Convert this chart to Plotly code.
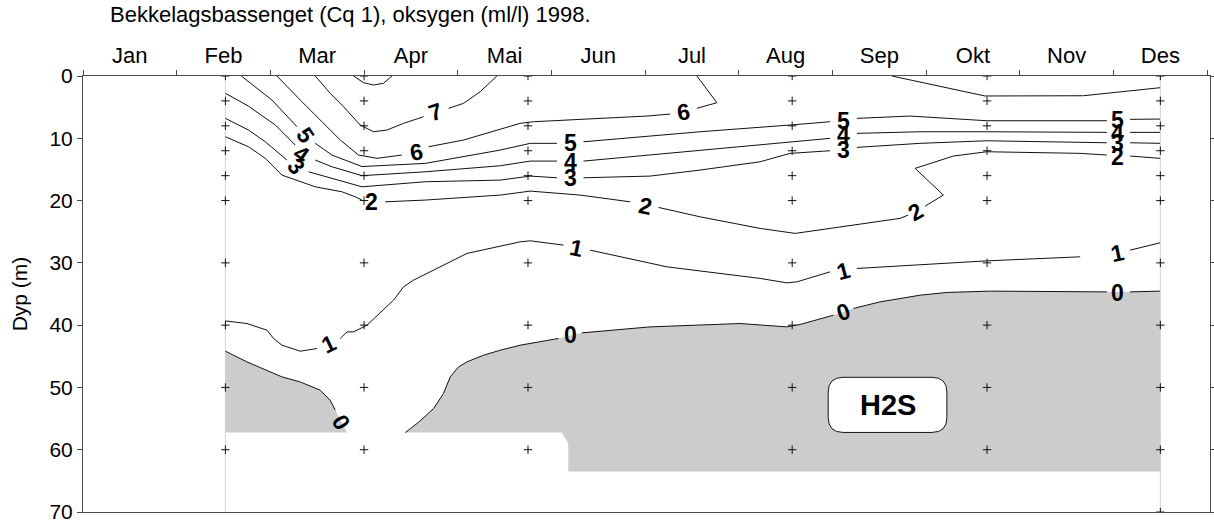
import plotly.graph_objects as go

# ---------------------------------------------------------------- data
MONTHS = ["Jan", "Feb", "Mar", "Apr", "Mai", "Jun", "Jul", "Aug", "Sep", "Okt", "Nov", "Des"]

# sampling dates (in months from 1 Jan) and sampled depths (m)
station_month = [1.52, 3.00, 4.75, 7.57, 9.65, 11.50]
station_depths = [
    [0, 4, 8, 12, 16, 20, 30, 40, 50, 60],
    [0, 4, 8, 12, 16, 20, 30, 40, 50, 60],
    [0, 4, 8, 12, 16, 20, 30, 40, 50, 60],
    [0, 4, 8, 12, 16, 20, 30, 40, 50, 60],
    [0, 4, 8, 12, 16, 20, 30, 40, 50, 60],
    [0, 4, 8, 12, 16, 20, 30, 40, 50, 60, 70],
]

# deepest sampled water, lower edge of the shaded area
bottom_month = [1.52, 5.11, 5.18, 5.18, 11.50]
bottom_depth = [57.25, 57.25, 59.0, 63.5, 63.5]

# oxygen isolines (ml/l); None breaks the line where a label sits
iso8_x = [2.888, 2.995, 3.101, 3.208, 3.298]
iso8_d = [0, 1.08, 1.45, 1.17, 0]

iso7_x = [2.479, 2.639, 2.781, 2.959, 3.101, 3.244, 3.422, 3.635, None, 3.902, 4.062, 4.240, 4.418]
iso7_d = [0, 2.78, 4.93, 7.87, 8.95, 8.68, 7.60, 6.54, None, 5.19, 4.39, 2.52, 0]

iso6_x = [2.070, 2.319, 2.746, 2.941, 3.138, 3.404, None, 3.688, 4.062, 4.667, 4.809, 6.019, 6.268, None,
          6.553, 6.766, 6.553, None, 8.634, 9.629, 10.679, 11.497]
iso6_d = [0, 3.86, 10.28, 12.69, 13.22, 12.69, None, 11.36, 10.28, 7.60, 7.34, 6.43, 6.11, None,
          5.19, 4.29, 0, None, 0, 3.21, 3.17, 1.88]

iso5_x = [1.69, 2.017, 2.284, None, 2.479, 2.657, 2.978, 3.653, 4.454, 4.774, 5.059, None,
          5.343, 6.588, 7.548, 7.975, None, 8.260, 8.829, 9.647, 10.929, None, 11.177, 11.497]
iso5_d = [0, 3.86, 8.15, None, 10.81, 12.69, 14.54, 14.03, 11.89, 10.81, 10.81, None,
          10.56, 8.95, 7.87, 7.34, None, 6.80, 6.43, 7.18, 7.18, None, 6.96, 6.91]

iso4_x = [1.52, 1.764, 2.053, 2.266, None, 2.479, 2.657, 2.978, 3.653, 4.454, 4.774, 5.059, None,
          5.343, 6.588, 7.548, 7.975, None, 8.260, 8.936, 9.647, 10.929, None, 11.177, 11.497]
iso4_d = [2.78, 4.82, 7.87, 11.09, None, 13.50, 14.57, 16.0, 15.38, 14.41, 13.66, 13.66, None,
          13.66, 11.89, 10.56, 10.01, None, 9.21, 8.95, 8.95, 9.05, None, 9.05, 9.05]

iso3_x = [1.52, 1.767, 1.946, 2.177, None, 2.408, 2.978, 3.653, 4.454, 4.774, 5.059, None,
          5.343, 6.054, 6.588, 7.228, 7.548, 7.975, None, 8.260, 8.936, 9.647, 10.929, None, 11.177, 11.497]
iso3_d = [6.80, 8.68, 10.56, 13.50, None, 15.38, 17.79, 16.98, 16.71, 16.07, 16.34, None,
          16.34, 16.07, 15.10, 13.77, 12.42, 12.00, None, 11.46, 10.81, 10.40, 10.72, None, 10.72, 10.81]

iso2_x = [1.52, 1.767, 1.946, 2.124, 2.479, 2.764, 2.906, 2.978, None, 3.226, 3.653, 4.454, 4.774, 5.307,
          5.841, None, 6.143, 6.588, 7.228, 7.602, 7.975, 8.722, 8.808, None, 8.989, 9.184, 8.882, 9.291,
          9.647, 10.644, 10.929, None, 11.177, 11.497]
iso2_d = [9.75, 11.36, 13.22, 15.91, 17.79, 18.59, 19.39, 19.92, None, 20.20, 19.92, 19.12, 18.48, 19.12,
          20.20, None, 21.10, 22.61, 24.47, 25.27, 24.47, 22.86, 22.33, None, 20.89, 19.12, 14.83, 12.85,
          12.16, 12.42, 12.69, None, 12.85, 13.22]

iso1_x = [1.52, 1.750, 1.964, 2.034, 2.124, 2.319, 2.497, None, 2.746, 2.818, 2.888, 3.031, 3.315, 3.422,
          3.528, 3.742, 4.098, 4.667, 4.774, 5.129, None, 5.414, 6.233, 7.228, 7.513, 7.620, 7.975, None,
          8.260, 8.509, 9.647, 10.644, None, 11.177, 11.497]
iso1_d = [39.32, 39.74, 40.81, 42.14, 43.22, 44.18, 43.75, None, 42.14, 41.08, 41.08, 40.01, 35.99, 33.85,
          32.78, 31.17, 28.49, 26.62, 26.46, 27.15, None, 27.96, 30.64, 32.50, 33.21, 33.05, 31.44, None,
          30.90, 30.69, 29.68, 29.03, None, 27.96, 26.78]

# zero isoline: western and eastern part
iso0a_x = [1.52, 1.750, 2.124, 2.319, 2.533, 2.639, 2.693, None, 2.818]
iso0a_d = [44.18, 45.90, 48.31, 49.12, 50.45, 52.06, 53.66, None, 57.25]

iso0b_x = [3.440, 3.586, 3.742, 3.848, 3.920, 4.009, 4.098, 4.275, 4.454, 4.667, 5.076, None,
           5.325, 6.054, 7.015, 7.513, 7.655, 8.011, None, 8.224, 8.509, 8.936, 9.221, 9.683, 10.929, None,
           11.177, 11.497]
iso0b_d = [57.25, 55.54, 53.39, 50.98, 48.31, 46.71, 45.90, 44.83, 44.02, 43.22, 42.14, None,
           41.24, 40.28, 39.74, 40.28, 39.89, 38.40, None, 37.32, 36.26, 35.19, 34.75, 34.54, 34.66, None,
           34.66, 34.54]

# isoline labels: text, month, depth, rotation (deg)
label_text = ["7", "6", "6",
              "5", "5", "5", "5",
              "4", "4", "4", "4",
              "3", "3", "3", "3",
              "2", "2", "2", "2",
              "1", "1", "1", "1",
              "0", "0", "0", "0"]
label_month = [3.760, 3.565, 6.410,
               2.372, 5.201, 8.117, 11.038,
               2.330, 5.201, 8.117, 11.038,
               2.274, 5.201, 8.117, 11.038,
               3.084, 6.001, 8.882, 11.038,
               2.621, 5.272, 8.117, 11.042,
               2.754, 5.201, 8.117, 11.041]
label_depth = [5.74, 12.16, 5.78,
               9.48, 10.81, 7.18, 7.07,
               12.53, 13.77, 9.48, 9.13,
               14.46, 16.39, 11.89, 10.76,
               20.20, 20.89, 21.80, 13.01,
               42.95, 27.68, 31.33, 28.39,
               55.54, 41.61, 37.87, 34.82]
label_angle = [-18, -10, -8,
               55, 0, 0, 0,
               35, 0, 0, 0,
               50, 0, 0, 0,
               0, 12, -30, 0,
               -25, 12, -15, -12,
               60, 0, -18, 0]

TITLE = "Bekkelagsbassenget (Cq 1), oksygen (ml/l) 1998."

# ---------------------------------------------------------------- styling
FONT = "Arial, 'Liberation Sans', sans-serif"
AXIS_COLOR = "#4a4a4a"
SHADE = "#cccccc"
X_MAX = 12.03
W, H = 1214, 521
M_L, M_R, M_T, M_B = 83, 4, 76, 9

fig = go.Figure()

# vertical guides at first and last sampling date
for t in (station_month[0], station_month[-1]):
    fig.add_trace(go.Scatter(x=[t, t], y=[0, 70], mode="lines",
                             line=dict(color="#d4d4d4", width=1),
                             hoverinfo="skip", showlegend=False))

# H2S area (below the 0 isoline, above the deepest sample)
def solid(xs, ds):
    return [(x, d) for x, d in zip(xs, ds) if x is not None]

west = solid(iso0a_x, iso0a_d)
west += [(bottom_month[0], bottom_depth[0])]
east = solid(iso0b_x, iso0b_d)
east += [(x, d) for x, d in reversed(list(zip(bottom_month, bottom_depth))) if x > east[0][0]]
for poly in (west, east):
    fig.add_trace(go.Scatter(x=[p[0] for p in poly], y=[p[1] for p in poly],
                             mode="lines", fill="toself", fillcolor=SHADE,
                             line=dict(width=0, color=SHADE),
                             hoverinfo="skip", showlegend=False))

# isolines
for xs, ds in [(iso8_x, iso8_d), (iso7_x, iso7_d), (iso6_x, iso6_d), (iso5_x, iso5_d),
               (iso4_x, iso4_d), (iso3_x, iso3_d), (iso2_x, iso2_d), (iso1_x, iso1_d),
               (iso0a_x, iso0a_d), (iso0b_x, iso0b_d)]:
    fig.add_trace(go.Scatter(x=xs, y=ds, mode="lines", connectgaps=False,
                             line=dict(color="#111111", width=1),
                             hoverinfo="skip", showlegend=False))

# sampling points
sx, sd = [], []
for t, depths in zip(station_month, station_depths):
    sx += [t] * len(depths)
    sd += depths
fig.add_trace(go.Scatter(x=sx, y=sd, mode="markers",
                         marker=dict(symbol="cross-thin", size=6,
                                     line=dict(color="#111111", width=1)),
                         hoverinfo="skip", showlegend=False))

# isoline labels
for txt, t, d, ang in zip(label_text, label_month, label_depth, label_angle):
    fig.add_annotation(x=t, y=d, text=txt, showarrow=False, textangle=ang,
                       xanchor="center", yanchor="middle",
                       font=dict(family=FONT, size=23, color="#000000", weight="bold"))

# H2S tag with rounded box
bx, bd, bw, bh = 8.588, 52.8, 1.267, 8.85
rx, ry = 0.16, 2.4
x0, x1, y0, y1 = bx - bw / 2, bx + bw / 2, bd - bh / 2, bd + bh / 2
path = (f"M {x0 + rx},{y0} L {x1 - rx},{y0} Q {x1},{y0} {x1},{y0 + ry} "
        f"L {x1},{y1 - ry} Q {x1},{y1} {x1 - rx},{y1} L {x0 + rx},{y1} "
        f"Q {x0},{y1} {x0},{y1 - ry} L {x0},{y0 + ry} Q {x0},{y0} {x0 + rx},{y0} Z")
fig.add_shape(type="path", path=path, xref="x", yref="y",
              fillcolor="white", line=dict(color="#111111", width=1), layer="above")
fig.add_annotation(x=bx, y=bd, text="H2S", showarrow=False, xanchor="center", yanchor="middle",
                   font=dict(family=FONT, size=29, color="#000000", weight="bold"))

# title
plot_w = W - M_L - M_R
plot_h = H - M_T - M_B
fig.add_annotation(xref="paper", yref="paper", x=(108 - M_L) / plot_w, y=1 + 62 / plot_h,
                   text=TITLE, showarrow=False, xanchor="left", yanchor="middle",
                   font=dict(family=FONT, size=22, color="#000000"))

fig.update_layout(
    width=W, height=H,
    margin=dict(l=M_L, r=M_R, t=M_T, b=M_B, pad=0, autoexpand=False),
    paper_bgcolor="white", plot_bgcolor="white",
    showlegend=False,
    font=dict(family=FONT, color="#000000"),
    xaxis=dict(range=[0, X_MAX], side="top", automargin=False,
               tickmode="array", tickvals=[i + 0.5 for i in range(12)], ticktext=MONTHS,
               ticks="outside", ticklen=3, tickcolor="rgba(0,0,0,0)",
               tickfont=dict(size=22),
               minor=dict(tickmode="array", tickvals=list(range(13)), ticks="outside",
                          ticklen=5, tickcolor=AXIS_COLOR, tickwidth=1, showgrid=False),
               showline=True, mirror=True, linecolor=AXIS_COLOR, linewidth=1,
               showgrid=False, zeroline=False),
    yaxis=dict(range=[70, 0], tickmode="array", tickvals=list(range(0, 71, 10)), automargin=False,
               ticks="outside", ticklen=5, tickcolor=AXIS_COLOR,
               tickfont=dict(size=21), ticklabeloverflow="allow",
               showline=True, mirror="ticks", linecolor=AXIS_COLOR, linewidth=1,
               showgrid=False, zeroline=False,
               title=dict(text="Dyp (m)", font=dict(size=21), standoff=16)),
)

fig.write_html("out.html")
